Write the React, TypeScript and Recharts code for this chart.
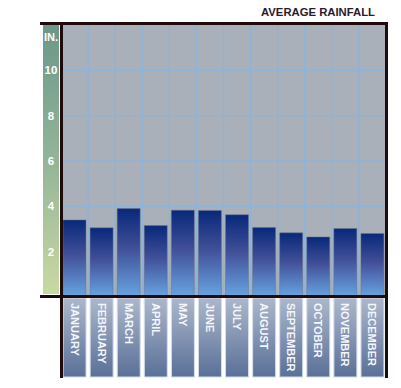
import { BarChart, Bar, XAxis, YAxis, CartesianGrid } from "recharts";

const months = [
  "JANUARY",
  "FEBRUARY",
  "MARCH",
  "APRIL",
  "MAY",
  "JUNE",
  "JULY",
  "AUGUST",
  "SEPTEMBER",
  "OCTOBER",
  "NOVEMBER",
  "DECEMBER",
];
const rainfall = [3.4, 3.05, 3.9, 3.15, 3.83, 3.82, 3.63, 3.07, 2.83, 2.65, 3.02, 2.8];
const yTicks = [2, 4, 6, 8, 10];

const data = months.map((month, i) => ({ month, inches: rainfall[i] }));

const FRAME = "#1f0a0c";
const FONT = "'Liberation Sans', Arial, sans-serif";

// month label tile under each bar, text runs top to bottom
const MonthTick = (props: any) => {
  const { x, y, payload } = props;
  return (
    <g>
      <rect x={x - 11.5} y={y} width={23} height={79} fill="url(#tileFill)" stroke="#d6dee9" strokeWidth={1} />
      <text
        transform={`translate(${x}, ${y + 5}) rotate(90)`}
        textAnchor="start"
        dominantBaseline="central"
        fill="#f4f6fa"
        fontSize={11}
        fontWeight="bold"
        fontFamily={FONT}
      >
        {payload.value}
      </text>
    </g>
  );
};

const InchTick = (props: any) => {
  const { y, payload } = props;
  return (
    <text x={51} y={y} textAnchor="middle" dominantBaseline="central" fill="#ffffff" fontSize={11.5} fontWeight="bold" fontFamily={FONT}>
      {payload.value}
    </text>
  );
};

const line = (left: number, top: number, width: number, height: number) => (
  <div style={{ position: "absolute", left, top, width, height, background: FRAME }} />
);

export default function App() {
  return (
    <div style={{ position: "absolute", left: 0, top: 0, width: 401, height: 388, background: "#fff" }}>
      {/* green unit band behind the y ticks */}
      <div
        style={{
          position: "absolute",
          left: 42.5,
          top: 24.5,
          width: 16.5,
          height: 269,
          background: "linear-gradient(to bottom, #6b9788, #93b499 50%, #c9d9a2)",
        }}
      />
      <div
        style={{
          position: "absolute",
          left: 261,
          top: 6,
          fontFamily: FONT,
          fontWeight: "bold",
          fontSize: 11.3,
          color: "#2b1a2c",
          whiteSpace: "nowrap",
        }}
      >
        AVERAGE RAINFALL
      </div>
      <div
        style={{
          position: "absolute",
          left: 42,
          top: 31,
          width: 18,
          textAlign: "center",
          fontFamily: FONT,
          fontWeight: "bold",
          fontSize: 11,
          color: "#fff",
        }}
      >
        IN.
      </div>
      <div style={{ position: "absolute", left: 0, top: 0 }}>
        <BarChart width={401} height={388} data={data} margin={{ top: 25, right: 15, bottom: 0, left: 40 }} barSize={23}>
          <defs>
            <linearGradient id="barFill" x1="0" y1="0" x2="0" y2="1">
              <stop offset="0%" stopColor="#08287a" />
              <stop offset="45%" stopColor="#414f98" />
              <stop offset="100%" stopColor="#68a5e2" />
            </linearGradient>
            <linearGradient id="tileFill" x1="0" y1="0" x2="0" y2="1">
              <stop offset="0%" stopColor="#acb7cb" />
              <stop offset="100%" stopColor="#5a7098" />
            </linearGradient>
          </defs>
          <CartesianGrid
            fill="#aab0b9"
            stroke="#8fb3d6"
            strokeWidth={1.5}
            verticalCoordinatesGenerator={({ offset }: any) =>
              months.slice(1).map((_, i) => offset.left + ((i + 1) * offset.width) / months.length)
            }
          />
          <XAxis
            dataKey="month"
            height={91}
            interval={0}
            axisLine={false}
            tickLine={false}
            tickSize={0}
            tickMargin={1}
            tick={MonthTick}
          />
          <YAxis
            width={21}
            domain={[0, 12]}
            ticks={yTicks}
            axisLine={false}
            tickLine={false}
            tick={InchTick}
          />
          <Bar dataKey="inches" fill="url(#barFill)" stroke="#6b7590" strokeWidth={0.5} isAnimationActive={false} />
        </BarChart>
      </div>
      {/* dark frame */}
      {line(40, 21.5, 347.5, 3)}
      {line(40, 294.5, 347.5, 3)}
      {line(59.5, 21.5, 3, 356.5)}
      {line(384.5, 21.5, 3, 356.5)}
    </div>
  );
}
